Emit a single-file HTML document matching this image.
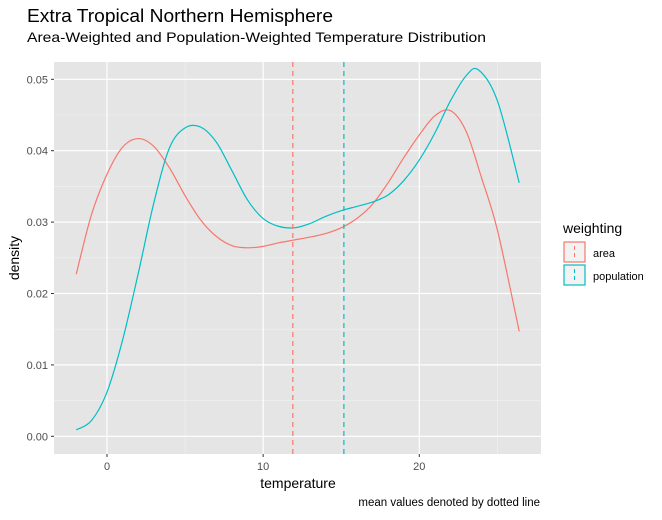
<!DOCTYPE html>
<html><head><meta charset="utf-8">
<style>
body{margin:0;background:#fff;font-family:"Liberation Sans",Arial,sans-serif;}
svg text{font-family:"Liberation Sans",Arial,sans-serif;}
</style></head>
<body>
<svg id="chart" width="662" height="515" viewBox="0 0 662 515">
<text x="27" y="22" font-size="18" textLength="306" lengthAdjust="spacingAndGlyphs" fill="#000">Extra Tropical Northern Hemisphere</text>
<text x="27" y="42" font-size="14" textLength="459" lengthAdjust="spacingAndGlyphs" fill="#000">Area-Weighted and Population-Weighted Temperature Distribution</text>
<rect x="54" y="62" width="487" height="392" fill="#e5e5e5"/>
<g id="grid"></g>
<g id="marks"></g>
<g id="axes"></g>
<text x="298" y="488" font-size="14" text-anchor="middle" fill="#000">temperature</text>
<text transform="translate(19,258) rotate(-90)" font-size="14" text-anchor="middle" fill="#000">density</text>
<text x="540" y="506" font-size="11.5" text-anchor="end" fill="#000">mean values denoted by dotted line</text>
<g>
<text x="563" y="233" font-size="14" fill="#000">weighting</text>
<g>
<rect x="564" y="242" width="21" height="20" fill="#f2f2f2" stroke="#F8766D" stroke-width="1.2"/>
<line x1="574.5" y1="246" x2="574.5" y2="258" stroke="#F8766D" stroke-dasharray="4,3"/>
<text x="593" y="257" font-size="11" fill="#000">area</text>
</g>
<g>
<rect x="564" y="265" width="21" height="20" fill="#f2f2f2" stroke="#00BFC4" stroke-width="1.2"/>
<line x1="574.5" y1="269" x2="574.5" y2="281" stroke="#00BFC4" stroke-dasharray="4,3"/>
<text x="593" y="280" font-size="11" fill="#000">population</text>
</g>
</g>
</svg>
<script>
const xTicks=[0,10,20];
const xMinor=[5,15,25];
const yTicks=[0,0.01,0.02,0.03,0.04,0.05];
const yTickLabels=["0.00","0.01","0.02","0.03","0.04","0.05"];
const yMinor=[0.005,0.015,0.025,0.035,0.045];
const temps=[-1.97,-1,0,1,2,3,4,5,6,7,8,9,10,11,12,13,14,15,16,17,18,19,20,21,22,23,24,25,26.4];
const areaDensity=[0.0227,0.031,0.0367,0.0405,0.0417,0.0406,0.0376,0.0337,0.0303,0.028,0.0267,0.0264,0.0266,0.0271,0.0275,0.0279,0.0284,0.0292,0.0305,0.0325,0.0355,0.039,0.0422,0.0449,0.0456,0.0427,0.0361,0.0289,0.0147];
const popTemps=[-1.97,-1,0,1,2,3,4,5,6,7,8,9,10,11,12,13,14,15,16,17,18,19,20,21,22,23,23.8,25,26.4];
const popDensity=[0.0009,0.0022,0.0062,0.0135,0.0228,0.0327,0.0404,0.0432,0.0433,0.0412,0.0372,0.0331,0.0305,0.0294,0.0292,0.0298,0.0308,0.0316,0.0322,0.0328,0.0338,0.0358,0.0387,0.0425,0.047,0.0505,0.0513,0.047,0.0355];
const meanArea=11.9, meanPop=15.17;
const NS="http://www.w3.org/2000/svg";
const X=v=>107+v*15.615;
const Y=v=>436.3-v*7140;
function mk(tag,attrs,parent){const e=document.createElementNS(NS,tag);for(const k in attrs)e.setAttribute(k,attrs[k]);parent.appendChild(e);return e;}
const grid=document.getElementById('grid'),marks=document.getElementById('marks'),axes=document.getElementById('axes');
xMinor.forEach(v=>{const l=mk('line',{x1:X(v),x2:X(v),y1:62,y2:454,stroke:'#f2f2f2','stroke-width':0.6},grid);

});
yMinor.forEach(v=>{const l=mk('line',{x1:54,x2:541,y1:Y(v),y2:Y(v),stroke:'#f2f2f2','stroke-width':0.6},grid);

});
xTicks.forEach(v=>{const l=mk('line',{x1:X(v),x2:X(v),y1:62,y2:454,stroke:'#fff','stroke-width':1.2},grid);


mk('line',{x1:X(v),x2:X(v),y1:454,y2:457,stroke:'#333'},axes);
const t=mk('text',{x:X(v),y:470,'font-size':11,'text-anchor':'middle',fill:'#4d4d4d'},axes);t.textContent=v;

});
yTicks.forEach((v,i)=>{const l=mk('line',{x1:54,x2:541,y1:Y(v),y2:Y(v),stroke:'#fff','stroke-width':1.2},grid);


mk('line',{x1:51,x2:54,y1:Y(v),y2:Y(v),stroke:'#333'},axes);
const t=mk('text',{x:48,y:Y(v)+4,'font-size':11,'text-anchor':'end',fill:'#4d4d4d'},axes);t.textContent=yTickLabels[i];

});
function smooth(xs,ys){const p=xs.map((x,i)=>[X(x),Y(ys[i])]);let d=`M${p[0][0]},${p[0][1]}`;
for(let i=0;i<p.length-1;i++){const p0=p[Math.max(0,i-1)],p1=p[i],p2=p[i+1],p3=p[Math.min(p.length-1,i+2)];
const c1=[p1[0]+(p2[0]-p0[0])/6,p1[1]+(p2[1]-p0[1])/6],c2=[p2[0]-(p3[0]-p1[0])/6,p2[1]-(p3[1]-p1[1])/6];
d+=` C${c1[0]},${c1[1]} ${c2[0]},${c2[1]} ${p2[0]},${p2[1]}`;}return d;}
const a=mk('path',{d:smooth(temps,areaDensity),fill:'none',stroke:'#F8766D','stroke-width':1.2},marks);


const p=mk('path',{d:smooth(popTemps,popDensity),fill:'none',stroke:'#00BFC4','stroke-width':1.2},marks);


const m1=mk('line',{x1:X(meanArea),x2:X(meanArea),y1:62,y2:454,stroke:'#F8766D','stroke-width':1.2,'stroke-dasharray':'5,4'},marks);


const m2=mk('line',{x1:X(meanPop),x2:X(meanPop),y1:62,y2:454,stroke:'#00BFC4','stroke-width':1.2,'stroke-dasharray':'5,4'},marks);


</script>
</body></html>
